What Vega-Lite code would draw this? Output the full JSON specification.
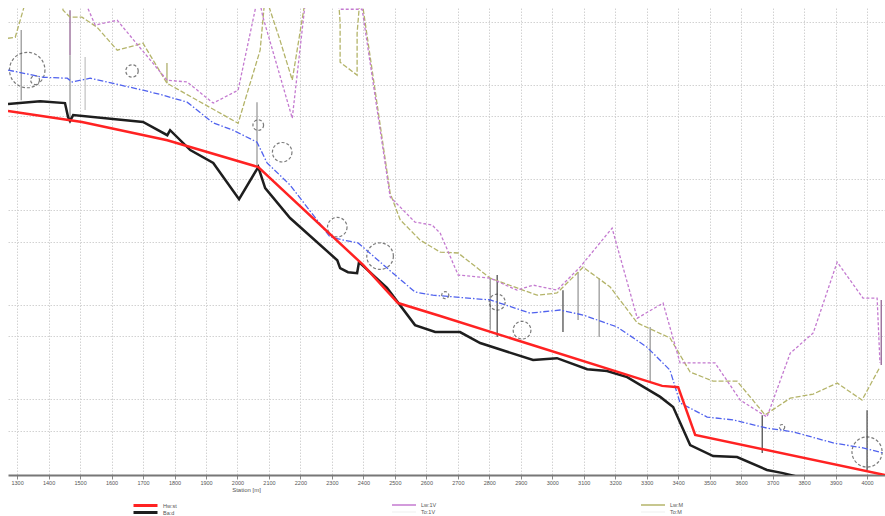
{
"$schema": "https://vega.github.io/schema/vega-lite/v6.json",
"width": 877, "height": 467,
"autosize": {"type": "none"},
"padding": {"left": 8, "top": 8, "right": 0, "bottom": 41},
"background": "white",
"config": {"view": {"stroke": null}, "font": "Liberation Sans",
 "axisX": {"labelOverlap": false, "labelSeparation": 0, "labelFlush": false},
 "legend": {"orient": "none", "title": null, "padding": 0, "rowPadding": 0, "symbolType": "M-4,0H4", "symbolSize": 36, "labelFontSize": 5.5, "labelColor": "#555", "labelOffset": 13}},
"datasets": {
"bars": [
{"s":1313,"top":313.73,"bot":311.5,"kind":"gray"},
{"s":1468,"top":314.36,"bot":312.93,"kind":"accent"},
{"s":1468,"top":312.93,"bot":310.87,"kind":"gray"},
{"s":1516,"top":312.87,"bot":311.19,"kind":"light"},
{"s":1776,"top":312.68,"bot":312.04,"kind":"olive"},
{"s":2062,"top":311.44,"bot":309.38,"kind":"gray"},
{"s":2803,"top":305.85,"bot":304.21,"kind":"gray"},
{"s":2825,"top":305.95,"bot":303.98,"kind":"dark"},
{"s":3034,"top":305.47,"bot":304.14,"kind":"dark"},
{"s":3082,"top":306.04,"bot":304.52,"kind":"gray"},
{"s":3149,"top":305.85,"bot":303.98,"kind":"gray"},
{"s":3311,"top":304.3,"bot":302.52,"kind":"gray"},
{"s":3667,"top":301.5,"bot":300.3,"kind":"dark"},
{"s":4000,"top":301.66,"bot":299.76,"kind":"dark"},
{"s":4045,"top":305.16,"bot":303.09,"kind":"accent"}
],
"circles": [
{"s":1332,"z":312.46,"r2":400},
{"s":1357,"z":312.14,"r2":25},
{"s":1665,"z":312.43,"r2":49},
{"s":2066,"z":310.71,"r2":36},
{"s":2142,"z":309.85,"r2":121},
{"s":2317,"z":307.47,"r2":121},
{"s":2453,"z":306.55,"r2":225},
{"s":2660,"z":305.31,"r2":16},
{"s":2825,"z":305.09,"r2":81},
{"s":2904,"z":304.2,"r2":100},
{"s":3730,"z":301.12,"r2":9},
{"s":4000,"z":300.33,"r2":289}
],
"lines": [
{"series":"Hw:st","i":1,"s":1271,"z":311.16},
{"series":"Hw:st","i":2,"s":1506,"z":310.81},
{"series":"Hw:st","i":3,"s":1777,"z":310.23},
{"series":"Hw:st","i":4,"s":2066,"z":309.38},
{"series":"Hw:st","i":5,"s":2399,"z":306.27},
{"series":"Hw:st","i":6,"s":2510,"z":305.06},
{"series":"Hw:st","i":7,"s":2644,"z":304.65},
{"series":"Hw:st","i":8,"s":3349,"z":302.43},
{"series":"Hw:st","i":9,"s":3400,"z":302.39},
{"series":"Hw:st","i":10,"s":3454,"z":300.87},
{"series":"Hw:st","i":11,"s":4057,"z":299.6},
{"series":"Ba:d","i":1,"s":1271,"z":311.38},
{"series":"Ba:d","i":2,"s":1373,"z":311.47},
{"series":"Ba:d","i":3,"s":1452,"z":311.41},
{"series":"Ba:d","i":4,"s":1462,"z":310.96},
{"series":"Ba:d","i":5,"s":1468,"z":310.84},
{"series":"Ba:d","i":6,"s":1478,"z":311.03},
{"series":"Ba:d","i":7,"s":1700,"z":310.81},
{"series":"Ba:d","i":8,"s":1777,"z":310.39},
{"series":"Ba:d","i":9,"s":1786,"z":310.55},
{"series":"Ba:d","i":10,"s":1850,"z":309.92},
{"series":"Ba:d","i":11,"s":1923,"z":309.51},
{"series":"Ba:d","i":12,"s":2005,"z":308.36},
{"series":"Ba:d","i":13,"s":2066,"z":309.38},
{"series":"Ba:d","i":14,"s":2088,"z":308.71},
{"series":"Ba:d","i":15,"s":2167,"z":307.76},
{"series":"Ba:d","i":16,"s":2317,"z":306.42},
{"series":"Ba:d","i":17,"s":2326,"z":306.17},
{"series":"Ba:d","i":18,"s":2351,"z":306.04},
{"series":"Ba:d","i":19,"s":2380,"z":306.01},
{"series":"Ba:d","i":20,"s":2386,"z":306.36},
{"series":"Ba:d","i":21,"s":2475,"z":305.54},
{"series":"Ba:d","i":22,"s":2564,"z":304.36},
{"series":"Ba:d","i":23,"s":2628,"z":304.14},
{"series":"Ba:d","i":24,"s":2707,"z":304.14},
{"series":"Ba:d","i":25,"s":2771,"z":303.79},
{"series":"Ba:d","i":26,"s":2939,"z":303.25},
{"series":"Ba:d","i":27,"s":3015,"z":303.31},
{"series":"Ba:d","i":28,"s":3111,"z":302.96},
{"series":"Ba:d","i":29,"s":3174,"z":302.9},
{"series":"Ba:d","i":30,"s":3238,"z":302.71},
{"series":"Ba:d","i":31,"s":3343,"z":302.08},
{"series":"Ba:d","i":32,"s":3384,"z":301.76},
{"series":"Ba:d","i":33,"s":3438,"z":300.55},
{"series":"Ba:d","i":34,"s":3511,"z":300.2},
{"series":"Ba:d","i":35,"s":3587,"z":300.17},
{"series":"Ba:d","i":36,"s":3682,"z":299.76},
{"series":"Ba:d","i":37,"s":3733,"z":299.66},
{"series":"Ba:d","i":38,"s":3781,"z":299.54},
{"series":"Ba:d","i":39,"s":3914,"z":299.13},
{"series":"Wsp","i":1,"s":1271,"z":312.46},
{"series":"Wsp","i":2,"s":1383,"z":312.23},
{"series":"Wsp","i":3,"s":1459,"z":312.2},
{"series":"Wsp","i":4,"s":1475,"z":312.08},
{"series":"Wsp","i":5,"s":1532,"z":312.2},
{"series":"Wsp","i":6,"s":1700,"z":311.82},
{"series":"Wsp","i":7,"s":1764,"z":311.66},
{"series":"Wsp","i":8,"s":1840,"z":311.44},
{"series":"Wsp","i":9,"s":1923,"z":310.78},
{"series":"Wsp","i":10,"s":1986,"z":310.55},
{"series":"Wsp","i":11,"s":2062,"z":310.17},
{"series":"Wsp","i":12,"s":2094,"z":309.51},
{"series":"Wsp","i":13,"s":2167,"z":308.81},
{"series":"Wsp","i":14,"s":2294,"z":307.16},
{"series":"Wsp","i":15,"s":2336,"z":307.06},
{"series":"Wsp","i":16,"s":2383,"z":306.97},
{"series":"Wsp","i":17,"s":2494,"z":306.01},
{"series":"Wsp","i":18,"s":2564,"z":305.41},
{"series":"Wsp","i":19,"s":2621,"z":305.31},
{"series":"Wsp","i":20,"s":2803,"z":305.16},
{"series":"Wsp","i":21,"s":2930,"z":304.74},
{"series":"Wsp","i":22,"s":3025,"z":304.84},
{"series":"Wsp","i":23,"s":3098,"z":304.68},
{"series":"Wsp","i":24,"s":3206,"z":304.3},
{"series":"Wsp","i":25,"s":3301,"z":303.66},
{"series":"Wsp","i":26,"s":3374,"z":302.93},
{"series":"Wsp","i":27,"s":3406,"z":301.89},
{"series":"Wsp","i":28,"s":3492,"z":301.44},
{"series":"Wsp","i":29,"s":3574,"z":301.35},
{"series":"Wsp","i":30,"s":3682,"z":301.09},
{"series":"Wsp","i":31,"s":3765,"z":300.97},
{"series":"Wsp","i":32,"s":3892,"z":300.62},
{"series":"Wsp","i":33,"s":3987,"z":300.46},
{"series":"Wsp","i":34,"s":4051,"z":300.3},
{"series":"Lw:1V","i":1,"s":1506,"z":314.84},
{"series":"Lw:1V","i":2,"s":1548,"z":313.89},
{"series":"Lw:1V","i":3,"s":1618,"z":314.04},
{"series":"Lw:1V","i":4,"s":1776,"z":312.14},
{"series":"Lw:1V","i":5,"s":1840,"z":312.08},
{"series":"Lw:1V","i":6,"s":1923,"z":311.41},
{"series":"Lw:1V","i":7,"s":2002,"z":311.82},
{"series":"Lw:1V","i":8,"s":2066,"z":314.84},
{"series":"Lw:1V","i":9,"s":2081,"z":314.14},
{"series":"Lw:1V","i":10,"s":2174,"z":310.93},
{"series":"Lw:1V","i":11,"s":2218,"z":314.84},
{"series":"Lw:1V","i":12,"s":2263,"z":315.31},
{"series":"Lw:1V","i":13,"s":2326,"z":314.39},
{"series":"Lw:1V","i":14,"s":2396,"z":314.39},
{"series":"Lw:1V","i":15,"s":2485,"z":308.43},
{"series":"Lw:1V","i":16,"s":2564,"z":307.63},
{"series":"Lw:1V","i":17,"s":2618,"z":307.54},
{"series":"Lw:1V","i":18,"s":2644,"z":307.28},
{"series":"Lw:1V","i":19,"s":2701,"z":305.95},
{"series":"Lw:1V","i":20,"s":2803,"z":305.85},
{"series":"Lw:1V","i":21,"s":2888,"z":305.47},
{"series":"Lw:1V","i":22,"s":2939,"z":305.63},
{"series":"Lw:1V","i":23,"s":3015,"z":305.47},
{"series":"Lw:1V","i":24,"s":3088,"z":306.2},
{"series":"Lw:1V","i":25,"s":3190,"z":307.44},
{"series":"Lw:1V","i":26,"s":3270,"z":304.58},
{"series":"Lw:1V","i":27,"s":3352,"z":305.06},
{"series":"Lw:1V","i":28,"s":3406,"z":303.16},
{"series":"Lw:1V","i":29,"s":3517,"z":303.16},
{"series":"Lw:1V","i":30,"s":3597,"z":301.98},
{"series":"Lw:1V","i":31,"s":3682,"z":301.44},
{"series":"Lw:1V","i":32,"s":3756,"z":303.47},
{"series":"Lw:1V","i":33,"s":3829,"z":304.11},
{"series":"Lw:1V","i":34,"s":3905,"z":306.36},
{"series":"Lw:1V","i":35,"s":3987,"z":305.22},
{"series":"Lw:1V","i":36,"s":4032,"z":305.22},
{"series":"Lw:1V","i":37,"s":4041,"z":303.16},
{"series":"Lw:M","i":1,"s":1271,"z":313.47},
{"series":"Lw:M","i":2,"s":1294,"z":313.5},
{"series":"Lw:M","i":3,"s":1319,"z":314.36},
{"series":"Lw:M","i":4,"s":1332,"z":314.84},
{"series":"Lw:M","i":5,"s":1437,"z":314.84},
{"series":"Lw:M","i":6,"s":1446,"z":314.36},
{"series":"Lw:M","i":7,"s":1468,"z":314.14},
{"series":"Lw:M","i":8,"s":1506,"z":314.14},
{"series":"Lw:M","i":9,"s":1554,"z":313.82},
{"series":"Lw:M","i":10,"s":1618,"z":313.09},
{"series":"Lw:M","i":11,"s":1700,"z":313.31},
{"series":"Lw:M","i":12,"s":1776,"z":312.04},
{"series":"Lw:M","i":13,"s":2002,"z":310.77},
{"series":"Lw:M","i":14,"s":2072,"z":313.09},
{"series":"Lw:M","i":15,"s":2088,"z":314.84},
{"series":"Lw:M","i":16,"s":2135,"z":313.41},
{"series":"Lw:M","i":17,"s":2174,"z":312.14},
{"series":"Lw:M","i":18,"s":2218,"z":314.84},
{"series":"Lw:M","i":19,"s":2320,"z":314.84},
{"series":"Lw:M","i":20,"s":2326,"z":313.98},
{"series":"Lw:M","i":21,"s":2326,"z":312.71},
{"series":"Lw:M","i":22,"s":2380,"z":312.3},
{"series":"Lw:M","i":23,"s":2380,"z":313.63},
{"series":"Lw:M","i":24,"s":2390,"z":314.84},
{"series":"Lw:M","i":25,"s":2399,"z":314.42},
{"series":"Lw:M","i":26,"s":2485,"z":308.55},
{"series":"Lw:M","i":27,"s":2517,"z":307.7},
{"series":"Lw:M","i":28,"s":2580,"z":307.06},
{"series":"Lw:M","i":29,"s":2644,"z":306.68},
{"series":"Lw:M","i":30,"s":2701,"z":306.65},
{"series":"Lw:M","i":31,"s":2803,"z":305.85},
{"series":"Lw:M","i":32,"s":2888,"z":305.54},
{"series":"Lw:M","i":33,"s":2952,"z":305.31},
{"series":"Lw:M","i":34,"s":3015,"z":305.38},
{"series":"Lw:M","i":35,"s":3098,"z":306.2},
{"series":"Lw:M","i":36,"s":3184,"z":305.57},
{"series":"Lw:M","i":37,"s":3270,"z":304.43},
{"series":"Lw:M","i":38,"s":3374,"z":303.95},
{"series":"Lw:M","i":39,"s":3438,"z":302.87},
{"series":"Lw:M","i":40,"s":3511,"z":302.58},
{"series":"Lw:M","i":41,"s":3587,"z":302.58},
{"series":"Lw:M","i":42,"s":3676,"z":301.51},
{"series":"Lw:M","i":43,"s":3756,"z":302.04},
{"series":"Lw:M","i":44,"s":3829,"z":302.17},
{"series":"Lw:M","i":45,"s":3905,"z":302.52},
{"series":"Lw:M","i":46,"s":3984,"z":301.98},
{"series":"Lw:M","i":47,"s":4041,"z":303.03}
]
},
"layer": [
{
"data": {"name": "bars"},
"mark": {"type": "rule", "clip": true},
"encoding": {
"x": {"field": "s", "type": "quantitative", "scale": {"domain": [1271, 4057], "nice": false, "zero": false},
 "axis": {"values": [1300,1400,1500,1600,1700,1800,1900,2000,2100,2200,2300,2400,2500,2600,2700,2800,2900,3000,3100,3200,3300,3400,3500,3600,3700,3800,3900,4000],
  "tickCount": 60, "format": "d", "labelOverlap": false, "labelFontSize": 5.5, "labelColor": "#555", "labelPadding": 1, "tickSize": 4, "tickColor": "#888",
  "domainColor": "#777", "domainWidth": 2, "grid": true, "gridColor": "#d2d2d2", "gridDash": [1.5, 1.5],
  "title": "Station [m]", "titleFontSize": 6, "titleFontWeight": "normal", "titleColor": "#555", "titleX": 238, "titleY": 11, "titleBaseline": "top"}},
"y": {"field": "top", "type": "quantitative", "scale": {"domain": [299.6, 314.43], "nice": false, "zero": false},
 "axis": {"values": [301,302,304,305,307,308,309,311,312,314], "tickCount": 30, "labels": false, "ticks": false, "domain": false, "title": null, "grid": true, "gridColor": "#d2d2d2", "gridDash": [1.5, 1.5]}},
"y2": {"field": "bot"},
"color": {"field": "kind", "type": "nominal", "scale": {"domain": ["gray","light","dark","accent","olive"], "range": ["#9a9a9a","#c4c4c4","#4a4a4a","#8c5a8c","#a8a860"]}, "legend": null},
"strokeWidth": {"field": "kind", "type": "nominal", "scale": {"domain": ["gray","light","dark","accent","olive"], "range": [1.3, 1.2, 1.8, 3, 2]}, "legend": null}
}
},
{
"data": {"name": "circles"},
"mark": {"type": "point", "shape": "circle", "filled": false, "stroke": "#444", "strokeWidth": 1.2, "strokeDash": [3, 2], "clip": true},
"encoding": {
"x": {"field": "s", "type": "quantitative"},
"y": {"field": "z", "type": "quantitative"},
"size": {"field": "r2", "type": "quantitative", "scale": {"domain": [0, 400], "range": [0, 1257]}, "legend": null}
}
},
{
"data": {"name": "lines"},
"transform": [{"filter": "datum.series === 'To:M'"}],
"mark": {"type": "line", "strokeWidth": 1.3, "clip": true},
"encoding": {
"x": {"field": "s", "type": "quantitative"},
"y": {"field": "z", "type": "quantitative"},
"color": {"field": "series", "type": "nominal", "scale": {"domain": ["To:M"], "range": ["#f4f4f4"]},
 "legend": {"legendX": 641, "legendY": 500, "symbolStrokeWidth": 1.5}}
}
},
{
"data": {"name": "lines"},
"transform": [{"filter": "datum.series === 'To:1V'"}],
"mark": {"type": "line", "strokeWidth": 1.3, "clip": true},
"encoding": {
"x": {"field": "s", "type": "quantitative"},
"y": {"field": "z", "type": "quantitative"},
"color": {"field": "series", "type": "nominal", "scale": {"domain": ["To:1V"], "range": ["#f4f4f4"]},
 "legend": {"legendX": 392, "legendY": 500, "symbolStrokeWidth": 1.5}}
}
},
{
"data": {"name": "lines"},
"transform": [{"filter": "datum.series === 'Lw:M'"}],
"mark": {"type": "line", "strokeWidth": 1.3, "strokeDash": [5, 2], "clip": true},
"encoding": {
"x": {"field": "s", "type": "quantitative"},
"y": {"field": "z", "type": "quantitative"},
"order": {"field": "i", "type": "quantitative"},
"color": {"field": "series", "type": "nominal", "scale": {"domain": ["Lw:M"], "range": ["#b4b46a"]},
 "legend": {"legendX": 641, "legendY": 493, "symbolStrokeWidth": 1.5}}
}
},
{
"data": {"name": "lines"},
"transform": [{"filter": "datum.series === 'Lw:1V'"}],
"mark": {"type": "line", "strokeWidth": 1.3, "strokeDash": [3, 2], "clip": true},
"encoding": {
"x": {"field": "s", "type": "quantitative"},
"y": {"field": "z", "type": "quantitative"},
"order": {"field": "i", "type": "quantitative"},
"color": {"field": "series", "type": "nominal", "scale": {"domain": ["Lw:1V"], "range": ["#c47ad0"]},
 "legend": {"legendX": 392, "legendY": 493, "symbolStrokeWidth": 1.5}}
}
},
{
"data": {"name": "lines"},
"transform": [{"filter": "datum.series === 'Wsp'"}],
"mark": {"type": "line", "color": "#5062ee", "strokeWidth": 1.3, "strokeDash": [6, 2, 1.5, 2], "clip": true},
"encoding": {
"x": {"field": "s", "type": "quantitative"},
"y": {"field": "z", "type": "quantitative"},
"order": {"field": "i", "type": "quantitative"}
}
},
{
"data": {"name": "lines"},
"transform": [{"filter": "datum.series === 'Ba:d'"}],
"mark": {"type": "line", "strokeWidth": 2.5, "clip": true},
"encoding": {
"x": {"field": "s", "type": "quantitative"},
"y": {"field": "z", "type": "quantitative"},
"order": {"field": "i", "type": "quantitative"},
"color": {"field": "series", "type": "nominal", "scale": {"domain": ["Ba:d"], "range": ["#1e1e1e"]},
 "legend": {"legendX": 133, "legendY": 500, "symbolStrokeWidth": 3}}
}
},
{
"data": {"name": "lines"},
"transform": [{"filter": "datum.series === 'Hw:st'"}],
"mark": {"type": "line", "strokeWidth": 2.5, "clip": true},
"encoding": {
"x": {"field": "s", "type": "quantitative"},
"y": {"field": "z", "type": "quantitative"},
"order": {"field": "i", "type": "quantitative"},
"color": {"field": "series", "type": "nominal", "scale": {"domain": ["Hw:st"], "range": ["#ff2222"]},
 "legend": {"legendX": 133, "legendY": 493, "symbolStrokeWidth": 3}}
}
}
],
"resolve": {"scale": {"color": "independent", "strokeWidth": "independent"}}
}
